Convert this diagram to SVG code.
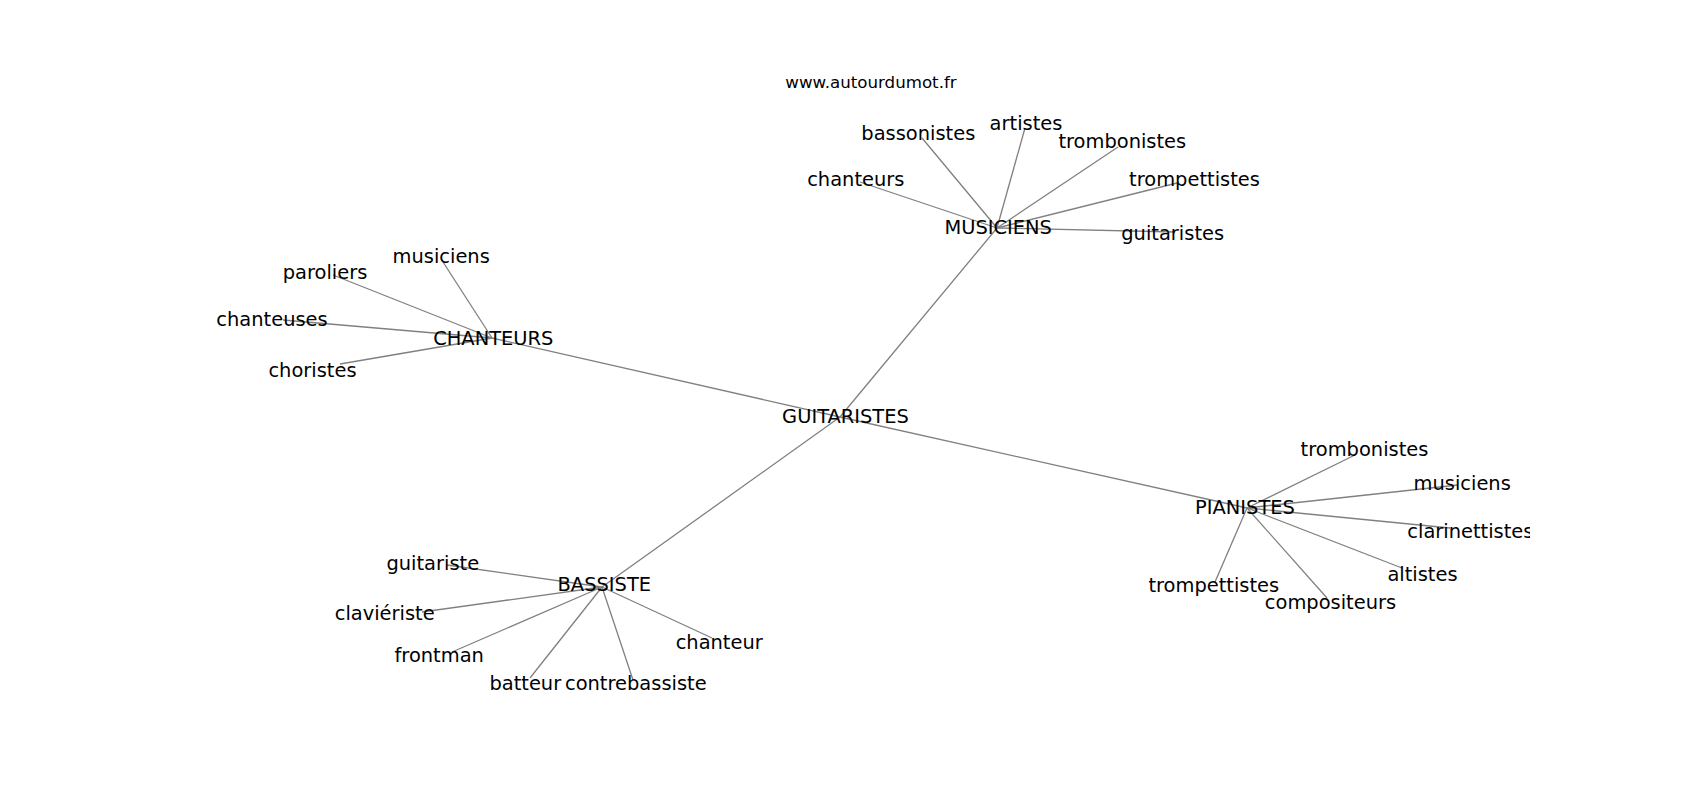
<svg xmlns="http://www.w3.org/2000/svg" width="1700" height="800" viewBox="0 0 1700 800">
<style>
  text { font-family: "DejaVu Sans", "Liberation Sans", sans-serif; fill: #000; text-anchor: middle; }
  .lbl { font-size: 19.44px; }
  .wm { font-size: 16.67px; }
  #edges line { stroke: #808080; stroke-width: 1.3; }
</style>
<defs>
  <clipPath id="ax"><rect x="212.5" y="96" width="1317.5" height="616"/></clipPath>
</defs>
<rect width="1700" height="800" fill="#fff"/>
<text class="wm" x="871" y="88.3">www.autourdumot.fr</text>
<g id="edges">
  <line x1="840" y1="417" x2="997" y2="228"/>
  <line x1="840" y1="417" x2="492" y2="338"/>
  <line x1="840" y1="417" x2="602" y2="587"/>
  <line x1="840" y1="417" x2="1247" y2="508"/>
  <line x1="997" y1="228" x2="922" y2="138"/>
  <line x1="997" y1="228" x2="1025" y2="128"/>
  <line x1="997" y1="228" x2="1118" y2="147"/>
  <line x1="997" y1="228" x2="1177" y2="183"/>
  <line x1="997" y1="228" x2="860" y2="182"/>
  <line x1="997" y1="228" x2="1175" y2="232"/>
  <line x1="492" y1="338" x2="443" y2="262"/>
  <line x1="492" y1="338" x2="333" y2="275"/>
  <line x1="492" y1="338" x2="283" y2="320"/>
  <line x1="492" y1="338" x2="340" y2="364"/>
  <line x1="602" y1="587" x2="447" y2="565"/>
  <line x1="602" y1="587" x2="422" y2="612"/>
  <line x1="602" y1="587" x2="452" y2="652"/>
  <line x1="602" y1="587" x2="530" y2="678"/>
  <line x1="602" y1="587" x2="633" y2="680"/>
  <line x1="602" y1="587" x2="712" y2="638"/>
  <line x1="1247" y1="508" x2="1355" y2="455"/>
  <line x1="1247" y1="508" x2="1458" y2="485"/>
  <line x1="1247" y1="508" x2="1450" y2="528"/>
  <line x1="1247" y1="508" x2="1402" y2="568"/>
  <line x1="1247" y1="508" x2="1215" y2="582"/>
  <line x1="1247" y1="508" x2="1327" y2="598"/>
</g>
<g id="nodes" clip-path="url(#ax)">
  <g id="n-guitaristes-hub"><text class="lbl" x="845.5" y="423.3">GUITARISTES</text></g>
  <g id="n-musiciens-hub"><text class="lbl" x="998.2" y="234">MUSICIENS</text></g>
  <g id="n-chanteurs-hub"><text class="lbl" x="493.3" y="345">CHANTEURS</text></g>
  <g id="n-bassiste-hub"><text class="lbl" x="604.3" y="590.7">BASSISTE</text></g>
  <g id="n-pianistes-hub"><text class="lbl" x="1245" y="514.3">PIANISTES</text></g>

  <g id="n-mus-bassonistes"><text class="lbl" x="918.3" y="140">bassonistes</text></g>
  <g id="n-mus-artistes"><text class="lbl" x="1026" y="130">artistes</text></g>
  <g id="n-mus-trombonistes"><text class="lbl" x="1122.3" y="148.3">trombonistes</text></g>
  <g id="n-mus-trompettistes"><text class="lbl" x="1194.5" y="185.5">trompettistes</text></g>
  <g id="n-mus-chanteurs"><text class="lbl" x="855.8" y="186">chanteurs</text></g>
  <g id="n-mus-guitaristes"><text class="lbl" x="1172.7" y="240">guitaristes</text></g>

  <g id="n-cha-musiciens"><text class="lbl" x="441.2" y="262.5">musiciens</text></g>
  <g id="n-cha-paroliers"><text class="lbl" x="325" y="279">paroliers</text></g>
  <g id="n-cha-chanteuses"><text class="lbl" x="272" y="325.5">chanteuses</text></g>
  <g id="n-cha-choristes"><text class="lbl" x="312.5" y="376.5">choristes</text></g>

  <g id="n-bas-guitariste"><text class="lbl" x="432.8" y="570">guitariste</text></g>
  <g id="n-bas-clavieriste"><text class="lbl" x="384.7" y="619.5">claviériste</text></g>
  <g id="n-bas-frontman"><text class="lbl" x="439.2" y="662.3">frontman</text></g>
  <g id="n-bas-batteur"><text class="lbl" x="525.3" y="690">batteur</text></g>
  <g id="n-bas-contrebassiste"><text class="lbl" x="635.8" y="690.3">contrebassiste</text></g>
  <g id="n-bas-chanteur"><text class="lbl" x="719.2" y="649.3">chanteur</text></g>

  <g id="n-pia-trombonistes"><text class="lbl" x="1364.5" y="456.3">trombonistes</text></g>
  <g id="n-pia-musiciens"><text class="lbl" x="1462.2" y="489.5">musiciens</text></g>
  <g id="n-pia-clarinettistes"><text class="lbl" x="1470.4" y="538">clarinettistes</text></g>
  <g id="n-pia-altistes"><text class="lbl" x="1422.5" y="580.5">altistes</text></g>
  <g id="n-pia-trompettistes"><text class="lbl" x="1213.8" y="592.3">trompettistes</text></g>
  <g id="n-pia-compositeurs"><text class="lbl" x="1330.5" y="608.5">compositeurs</text></g>
</g>
</svg>
